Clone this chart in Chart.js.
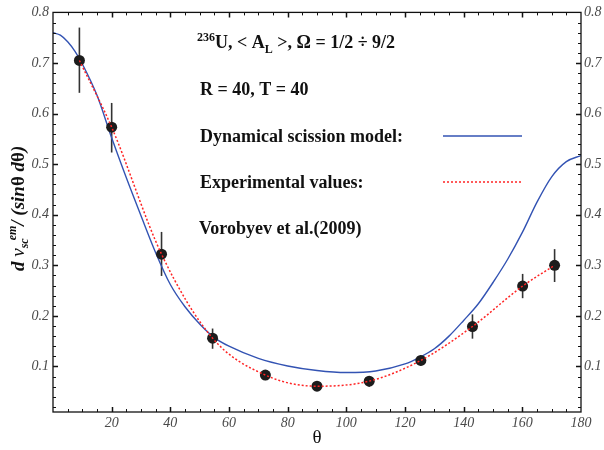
<!DOCTYPE html>
<html><head><meta charset="utf-8">
<script src="https://cdn.jsdelivr.net/npm/chart.js@4.4.0/dist/chart.umd.min.js"></script>
<style>html,body{margin:0;padding:0;background:#fff;}</style>
</head><body>
<canvas id="c" width="604" height="450"></canvas>
<script>
// ---- data ----
const modelTheta = [0,2.5,5,7.5,10,15,20,25,30,35,40,45,50,55,60,70,80,90,100,110,120,125,130,135,140,145,150,155,160,165,170,175,180];
const modelValue = [0.760,0.755,0.742,0.723,0.698,0.636,0.552,0.473,0.398,0.325,0.262,0.218,0.184,0.157,0.140,0.116,0.101,0.092,0.088,0.091,0.105,0.118,0.135,0.160,0.191,0.224,0.266,0.312,0.365,0.425,0.475,0.505,0.517];
const expTheta   = [9, 20, 37, 54.4, 72.4, 90, 107.8, 125.4, 143, 160.1, 171];
const expValue   = [0.705, 0.573, 0.322, 0.156, 0.083, 0.061, 0.071, 0.112, 0.179, 0.259, 0.300];
const expErrLow  = [0.641, 0.523, 0.279, 0.135, 0.073, 0.053, 0.060, 0.102, 0.155, 0.235, 0.267];
const expErrHigh = [0.770, 0.621, 0.366, 0.175, 0.092, 0.068, 0.080, 0.121, 0.203, 0.283, 0.332];
const xTickLabels = [20, 40, 60, 80, 100, 120, 140, 160, 180];
const yTickLabels = [0.1, 0.2, 0.3, 0.4, 0.5, 0.6, 0.7, 0.8];

const BLUE = '#3353b3';
const RED = '#ff2424';
const SERIF = '"Liberation Serif", "DejaVu Serif", serif';

function drawRich(ctx, x, y, segs) {
  for (const s of segs) {
    ctx.font = s.f;
    x += (s.dx || 0);
    ctx.fillText(s.t, x, y + (s.dy || 0));
    x += ctx.measureText(s.t).width;
  }
  return x;
}

const decor = {
  id: 'decor',
  beforeDatasetsDraw(chart) {
    const { ctx, scales: { x, y } } = chart;
    ctx.save();
    ctx.strokeStyle = '#333';
    ctx.lineWidth = 1.6;
    expTheta.forEach((t, i) => {
      const px = x.getPixelForValue(t);
      ctx.beginPath();
      ctx.moveTo(px, y.getPixelForValue(expErrLow[i]));
      ctx.lineTo(px, y.getPixelForValue(expErrHigh[i]));
      ctx.stroke();
    });
    ctx.restore();
  },
  afterDraw(chart) {
    const { ctx, chartArea: a, scales: { x, y } } = chart;
    ctx.save();
    // frame
    ctx.strokeStyle = '#111';
    ctx.lineWidth = 1.3;
    ctx.strokeRect(a.left, a.top, a.right - a.left, a.bottom - a.top);
    // x ticks (inward, bottom & top)
    for (let v = 5; v < 180; v += 5) {
      const px = Math.round(x.getPixelForValue(v)) + 0.5;
      const len = v % 20 === 0 ? 5 : 3;
      ctx.lineWidth = v % 20 === 0 ? 1.5 : 1;
      ctx.beginPath();
      ctx.moveTo(px, a.bottom); ctx.lineTo(px, a.bottom - len);
      ctx.moveTo(px, a.top); ctx.lineTo(px, a.top + len);
      ctx.stroke();
    }
    // y ticks (inward, left & right)
    for (let k = 1; k < 40; k++) {
      const v = k * 0.02;
      const py = Math.round(y.getPixelForValue(v)) + 0.5;
      const major = k % 5 === 0;
      const len = major ? 5 : 3;
      ctx.lineWidth = major ? 1.5 : 1;
      ctx.beginPath();
      ctx.moveTo(a.left, py); ctx.lineTo(a.left + len, py);
      ctx.moveTo(a.right, py); ctx.lineTo(a.right - len, py);
      ctx.stroke();
    }
    // annotation text
    ctx.fillStyle = '#111';
    ctx.textBaseline = 'alphabetic';
    const B = 'bold 18px ' + SERIF, S = 'bold 12px ' + SERIF;
    drawRich(ctx, 197, 48, [
      { t: '236', f: S, dy: -7 },
      { t: 'U, < A', f: B },
      { t: 'L', f: S, dy: 5 },
      { t: ' >, \u03A9 = 1/2 \u00F7 9/2', f: B }
    ]);
    ctx.font = B;
    ctx.fillText('R = 40, T = 40', 200, 95);
    ctx.fillText('Dynamical scission model:', 200, 141.5);
    ctx.fillText('Experimental values:', 200, 188);
    ctx.fillText('Vorobyev et al.(2009)', 199, 234);
    // legend samples
    ctx.lineWidth = 1.4;
    ctx.strokeStyle = BLUE;
    ctx.beginPath(); ctx.moveTo(443, 136); ctx.lineTo(522, 136); ctx.stroke();
    ctx.strokeStyle = RED;
    ctx.setLineDash([2, 2]);
    ctx.beginPath(); ctx.moveTo(443, 182); ctx.lineTo(522, 182); ctx.stroke();
    ctx.setLineDash([]);
    // y axis title (rotated)
    ctx.save();
    ctx.translate(24, 271);
    ctx.rotate(-Math.PI / 2);
    const T = 'bold italic 19px ' + SERIF, t = 'bold italic 12px ' + SERIF;
    drawRich(ctx, 0, 0, [
      { t: 'd', f: T },
      { t: ' \u03BD', f: 'italic 19px ' + SERIF },
      { t: 'sc', f: t, dy: 4 },
      { t: 'em', f: t, dy: -8, dx: -2 },
      { t: '/ (', f: T },
      { t: 'sin', f: T },
      { t: '\u03B8 ', f: 'bold 19px ' + SERIF },
      { t: 'd', f: T },
      { t: '\u03B8', f: 'bold 19px ' + SERIF },
      { t: ')', f: T }
    ]);
    ctx.restore();
    // x axis title
    ctx.font = '19px ' + SERIF;
    ctx.textAlign = 'center';
    ctx.fillText('\u03B8', (a.left + a.right) / 2, 443);
    ctx.restore();
  }
};

const tickFont = { family: SERIF, size: 14, style: 'italic' };
const setTicks = (arr) => (scale) => { scale.ticks = arr.map(v => ({ value: v })); };

new Chart(document.getElementById('c'), {
  type: 'line',
  data: {
    datasets: [
      {
        label: 'Experimental values',
        data: expTheta.map((t, i) => ({ x: t, y: expValue[i] })),
        borderColor: RED, borderWidth: 1.5, borderDash: [2, 2],
        pointRadius: 0, cubicInterpolationMode: 'monotone', fill: false, order: 0
      },
      {
        label: 'Experimental points',
        data: expTheta.map((t, i) => ({ x: t, y: expValue[i] })),
        showLine: false, pointRadius: 5.5, pointBackgroundColor: '#1c1c1c',
        pointBorderColor: '#1c1c1c', pointBorderWidth: 0, order: 1
      },
      {
        label: 'Dynamical scission model',
        data: modelTheta.map((t, i) => ({ x: t, y: modelValue[i] })),
        borderColor: BLUE, borderWidth: 1.4, pointRadius: 0,
        cubicInterpolationMode: 'monotone', fill: false, order: 2
      }
    ]
  },
  options: {
    responsive: false, animation: false, devicePixelRatio: 1,
    layout: { padding: { top: 10, left: 0, right: 0, bottom: 0 } },
    plugins: { legend: { display: false }, tooltip: { enabled: false } },
    scales: {
      x: {
        type: 'linear', position: 'bottom', min: 0, max: 180,
        afterBuildTicks: setTicks(xTickLabels),
        afterFit: (s) => { s.height = 38; },
        grid: { display: false, drawTicks: false }, border: { display: false },
        ticks: { font: tickFont, color: '#4a4a4a', padding: 3, maxRotation: 0, autoSkip: false }
      },
      y: {
        type: 'linear', position: 'left', min: 0.01, max: 0.8,
        afterBuildTicks: setTicks(yTickLabels),
        afterFit: (s) => { s.width = 53; },
        grid: { display: false, drawTicks: false }, border: { display: false },
        ticks: { font: tickFont, color: '#4a4a4a', padding: 4, callback: v => v.toFixed(1) }
      },
      y2: {
        type: 'linear', position: 'right', min: 0.01, max: 0.8,
        afterBuildTicks: setTicks(yTickLabels),
        afterFit: (s) => { s.width = 23; },
        grid: { display: false, drawTicks: false }, border: { display: false },
        ticks: { font: tickFont, color: '#4a4a4a', padding: 3, callback: v => v.toFixed(1) }
      }
    }
  },
  plugins: [decor]
});
</script>
</body></html>
